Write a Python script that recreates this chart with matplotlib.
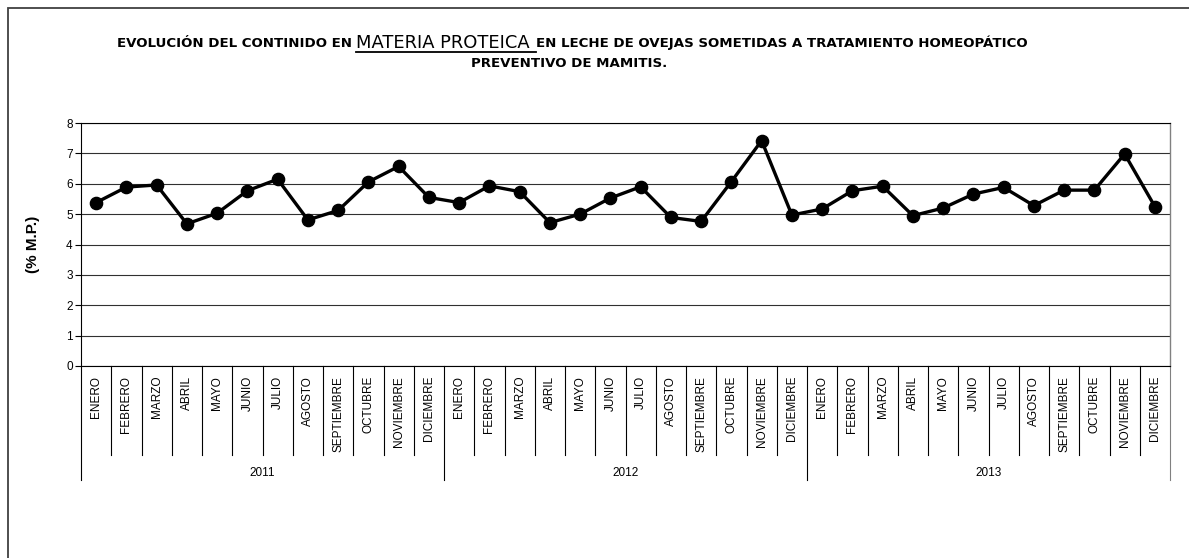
import numpy as np
import matplotlib
matplotlib.use('Agg')
import matplotlib.pyplot as plt
import matplotlib.transforms as mtransforms
from matplotlib.patches import Rectangle
from matplotlib.lines import Line2D

plt.rcParams['font.family'] = ['Liberation Sans', 'DejaVu Sans']

# Data (% materia proteica por mes)
meses = ['ENERO', 'FEBRERO', 'MARZO', 'ABRIL', 'MAYO', 'JUNIO', 'JULIO',
         'AGOSTO', 'SEPTIEMBRE', 'OCTUBRE', 'NOVIEMBRE', 'DICIEMBRE']
anios = ['2011', '2012', '2013']
mp_2011 = [5.38, 5.89, 5.96, 4.68, 5.03, 5.77, 6.15, 4.81, 5.12, 6.06, 6.57, 5.55]
mp_2012 = [5.38, 5.93, 5.74, 4.72, 5.00, 5.53, 5.90, 4.89, 4.76, 6.07, 7.42, 4.97]
mp_2013 = [5.17, 5.77, 5.92, 4.95, 5.20, 5.66, 5.88, 5.28, 5.79, 5.79, 6.98, 5.25]

valores = mp_2011 + mp_2012 + mp_2013
etiquetas = meses * len(anios)
n = len(valores)
x = np.arange(n) + 0.5

W, H = 1189, 558
fig = plt.figure(figsize=(W / 100, H / 100), dpi=100)
ax = fig.add_axes([81 / W, 1 - 366 / H, (1170 - 81) / W, (366 - 123) / H])

# grid + line
ax.set_xlim(0, n)
ax.set_ylim(0, 8)
ax.set_yticks(range(9))
ax.set_xticks([])
ax.yaxis.grid(True, color='#303030', lw=0.8)
ax.set_axisbelow(True)
ax.tick_params(axis='y', length=4, width=0.8, labelsize=8.5, pad=2)
for s in ['left', 'bottom', 'top']:
    ax.spines[s].set_color('black')
    ax.spines[s].set_linewidth(0.8)
ax.spines['right'].set_color('#808080')
ax.spines['right'].set_linewidth(1.0)

ax.plot(x, valores, color='black', lw=2.4, marker='o', markersize=8.8,
        markerfacecolor='black', markeredgecolor='black', zorder=3)

# multi-level category axis
trans = mtransforms.blended_transform_factory(ax.transData, ax.transAxes)
for i in range(n + 1):
    y0 = -0.469 if i % 12 == 0 else -0.366
    col = '#808080' if i == n else 'black'
    ax.plot([i, i], [0, y0], transform=trans, color=col, lw=0.8, clip_on=False)
for xi, lab in zip(x, etiquetas):
    ax.text(xi, -0.041, lab, transform=trans, rotation=90, ha='center',
            va='top', fontsize=8.5)
for k, a in enumerate(anios):
    ax.text(12 * k + 6, -0.44, a, transform=trans, ha='center', va='center',
            fontsize=8.5)

# y label
fig.text(33 / W, 1 - 244 / H, '(% M.P.)', rotation=90, ha='center', va='center',
         fontsize=11, fontweight='bold')

# title in pieces
fs_small = 9.6
p1 = fig.text(0, 1 - 47 / H, 'EVOLUCIÓN DEL CONTINIDO EN ', fontsize=fs_small,
              fontweight='bold', family='DejaVu Sans', va='baseline')
p2 = fig.text(0, 1 - 48 / H, 'MATERIA PROTEICA ', fontsize=12.9,
              family='DejaVu Sans', va='baseline')
p3 = fig.text(0, 1 - 47 / H,
              'EN LECHE DE OVEJAS SOMETIDAS A TRATAMIENTO HOMEOPÁTICO',
              fontsize=fs_small, fontweight='bold', family='DejaVu Sans',
              va='baseline')
fig.text(569 / W, 1 - 67 / H, 'PREVENTIVO DE MAMITIS.', fontsize=fs_small,
         fontweight='bold', family='DejaVu Sans', va='baseline', ha='center')

r = fig.canvas.get_renderer()
ws = [p.get_window_extent(r).width for p in (p1, p2, p3)]
x0 = 572 - sum(ws) / 2
p1.set_x(x0 / W)
p2.set_x((x0 + ws[0]) / W)
p3.set_x((x0 + ws[0] + ws[1]) / W)
fig.add_artist(Line2D([(x0 + ws[0]) / W, (x0 + ws[0] + ws[1]) / W],
                      [1 - 52 / H, 1 - 52 / H], color='black', lw=1.3,
                      transform=fig.transFigure))

# outer frame
fig.add_artist(Rectangle((8 / W, -0.1), 1.2, 1.1 - 8 / H, fill=False,
                         edgecolor='#404040', lw=1.3, transform=fig.transFigure))

fig.savefig('out.png', dpi=100)
